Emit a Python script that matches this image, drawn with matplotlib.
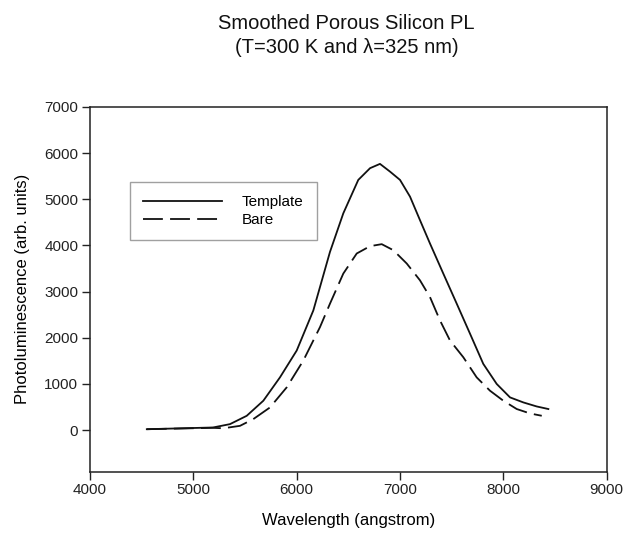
import numpy as np
import matplotlib

matplotlib.use("Agg")
import matplotlib.pyplot as plt

plt.rcParams.update({
    "font.family": ["Liberation Sans", "DejaVu Sans"],
    "font.size": 11,
})

# Template sample (solid)
template_wl = [4550, 5190, 5355, 5517, 5678, 5839, 6001, 6162, 6323, 6452,
               6597, 6711, 6807, 6904, 7001, 7098, 7194, 7291, 7420, 7550,
               7679, 7807, 7937, 8066, 8195, 8324, 8437]
template_pl = [20, 57, 130, 310, 637, 1143, 1724, 2593, 3860, 4696,
               5420, 5674, 5767, 5600, 5420, 5057, 4550, 4043, 3391, 2739,
               2087, 1435, 1000, 709, 600, 513, 457]

# Bare sample (dashed)
bare_wl = [4550, 5190, 5290, 5452, 5581, 5742, 5904, 6065, 6226, 6323,
           6452, 6582, 6711, 6824, 6936, 7066, 7194, 7291, 7388, 7485,
           7614, 7743, 7872, 8001, 8131, 8260, 8373]
bare_pl = [20, 50, 40, 93, 239, 491, 926, 1507, 2230, 2739,
           3391, 3826, 3985, 4028, 3898, 3609, 3246, 2883, 2376, 1941,
           1578, 1143, 854, 637, 457, 361, 311]

fig = plt.figure(figsize=(6.28, 5.34), dpi=100)
ax = fig.add_axes([0.1433, 0.1167, 0.8225, 0.683])

ax.plot(template_wl, template_pl, color="#111111", lw=1.3, label="Template")
ax.plot(bare_wl, bare_pl, color="#111111", lw=1.3, dashes=(11, 4),
        label="Bare")

ax.set_xlim(4000, 9000)
ax.set_ylim(-900, 7000)
ax.set_xticks(np.arange(4000, 9001, 1000))
ax.set_yticks(np.arange(0, 7001, 1000))
ax.tick_params(direction="out", length=5.5, width=1, labelsize=11, pad=3,
               top=False, right=False, colors="#222222")
for s in ax.spines.values():
    s.set_linewidth(1.1)
    s.set_color("#222222")

ax.set_xlabel("Wavelength (angstrom)", fontsize=12, labelpad=11)
ax.set_ylabel("Photoluminescence (arb. units)", fontsize=12, labelpad=10)

leg = ax.legend(loc="upper left", bbox_to_anchor=(0.077, 0.794),
                handlelength=5.2, handletextpad=1.3, fontsize=11,
                fancybox=False, borderpad=0.85, labelspacing=0.25,
                borderaxespad=0)
leg.get_frame().set_edgecolor("#888888")
leg.get_frame().set_linewidth(1.0)

fig.text(0.552, 0.934, "Smoothed Porous Silicon PL\n(T=300 K and λ=325 nm)",
         ha="center", va="center", fontsize=14.5, linespacing=1.35,
         color="#111111")

fig.savefig("out.png", dpi=100)
